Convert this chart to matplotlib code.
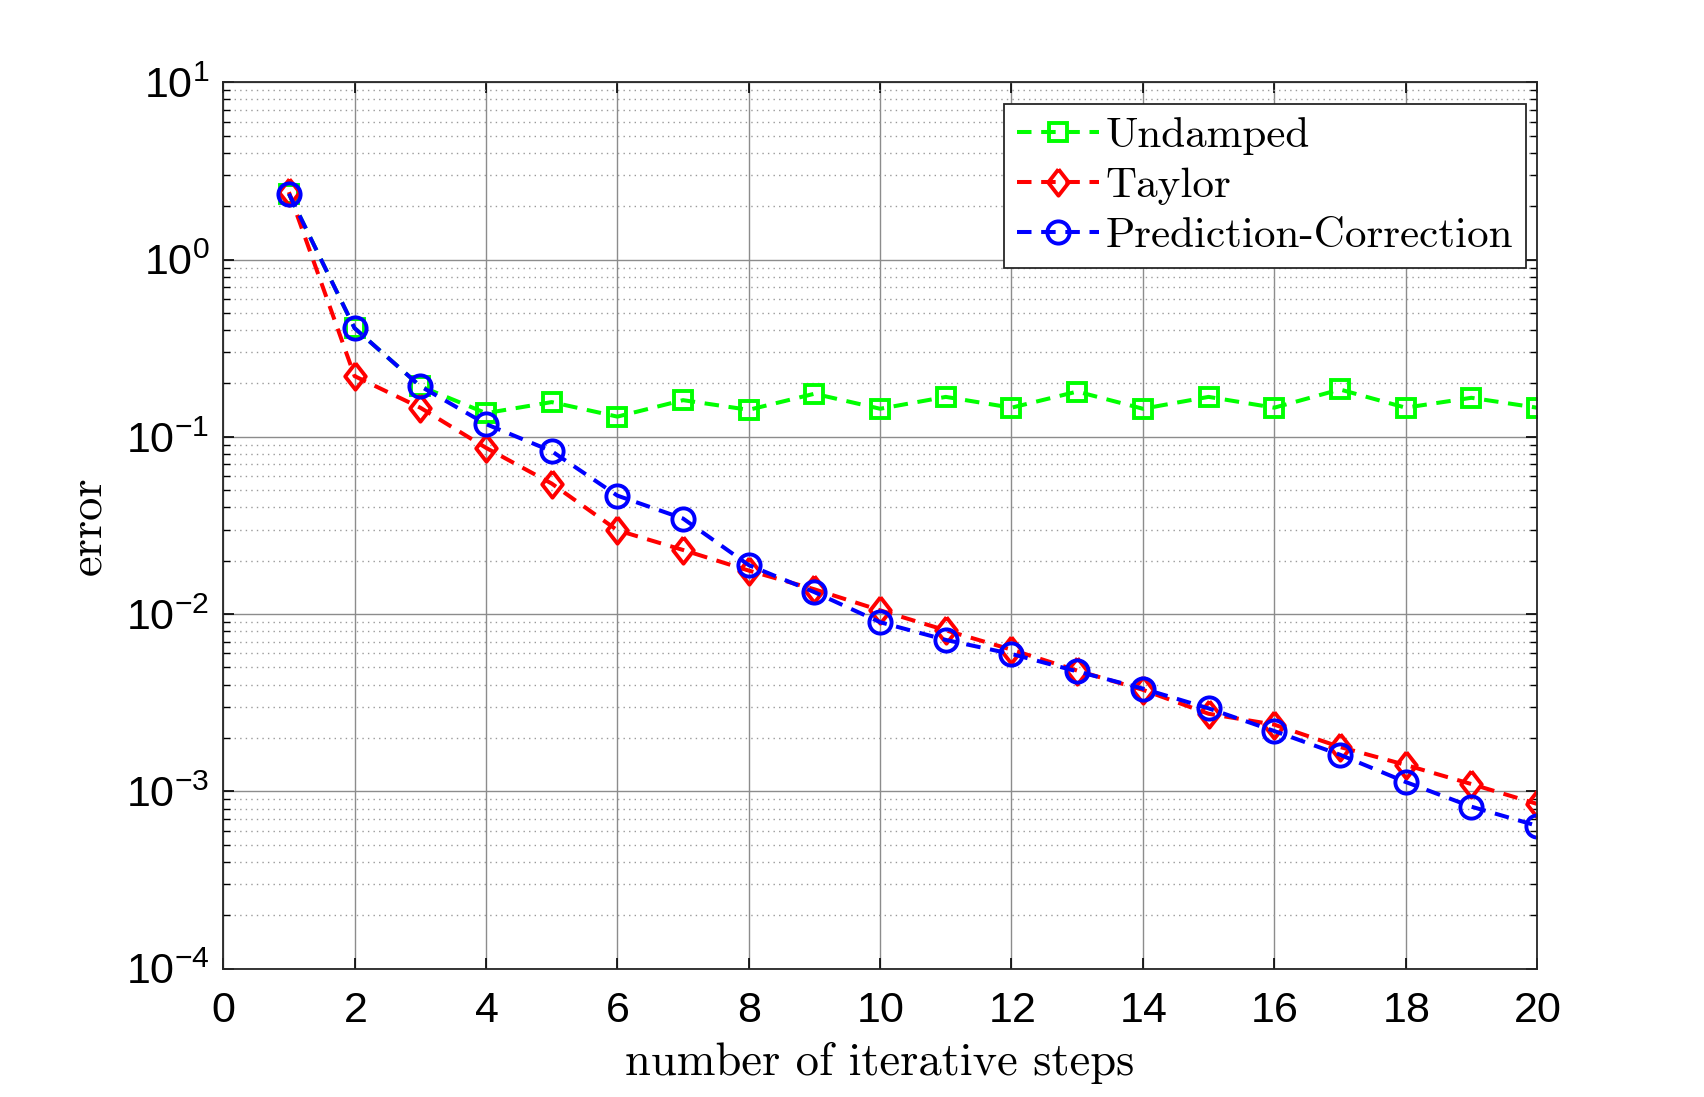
import matplotlib
matplotlib.use("Agg")
import matplotlib.pyplot as plt
import numpy as np
from matplotlib.ticker import LogLocator, NullFormatter

# data
steps = list(range(1, 21))
undamped = [2.35, 0.41, 0.193, 0.136, 0.157, 0.130, 0.161, 0.142, 0.175, 0.144,
            0.168, 0.146, 0.180, 0.144, 0.168, 0.146, 0.185, 0.146, 0.166, 0.146]
taylor = [2.40, 0.22, 0.146, 0.0867, 0.0545, 0.0297, 0.023, 0.0176, 0.0138, 0.0105,
          0.0081, 0.0063, 0.0048, 0.00374, 0.00274, 0.00238, 0.00178, 0.00141, 0.0011, 0.00085]
pred_corr = [2.35, 0.41, 0.193, 0.118, 0.083, 0.0466, 0.0346, 0.0189, 0.0133, 0.0090,
             0.00715, 0.00596, 0.00475, 0.00380, 0.00294, 0.00219, 0.00161, 0.00113, 0.00082, 0.00064]

plt.rcParams['font.family'] = ['Liberation Sans', 'DejaVu Sans']
plt.rcParams['axes.formatter.use_mathtext'] = True
plt.rcParams['mathtext.fontset'] = 'custom'
plt.rcParams['mathtext.rm'] = 'Liberation Sans'

fig = plt.figure(figsize=(17.04, 10.97), dpi=100)
ax = fig.add_axes([0.131, 0.117, 0.771, 0.808])

# matlab style tall diamond
tall_diamond = [(0, 1), (0.78, 0), (0, -1), (-0.78, 0), (0, 1)]
dash = (0, (3.6, 2.4))
lw = 2.9
ax.plot(steps, undamped, ls=dash, marker='s', color=(0, 1, 0), lw=lw, ms=13, mfc='none', mew=2.8, label='Undamped')
ax.plot(steps, taylor, ls=dash, marker=tall_diamond, color=(1, 0, 0), lw=lw, ms=19, mfc='none', mew=2.8, label='Taylor')
ax.plot(steps, pred_corr, ls=dash, marker='o', color=(0, 0, 1), lw=lw, ms=16, mfc='none', mew=2.8, label='Prediction-Correction')

ax.set_yscale('log')
ax.set_xlim(0, 20)
ax.set_ylim(1e-4, 1e1)
ax.set_xticks(range(0, 21, 2))
ax.yaxis.set_major_locator(LogLocator(base=10, numticks=10))
ax.yaxis.set_minor_locator(LogLocator(base=10, subs=np.arange(2, 10), numticks=20))
ax.yaxis.set_minor_formatter(NullFormatter())

ax.grid(True, which='major', color='#8c8c8c', lw=1.0, ls='-')
ax.grid(True, which='minor', axis='y', color='#9a9a9a', lw=1.0, ls=(0, (1, 3)))
ax.set_axisbelow(True)

ax.tick_params(which='both', direction='in', top=True, right=True, labelsize=31)
ax.tick_params(axis='x', pad=16)
ax.tick_params(axis='y', pad=10)
ax.tick_params(which='major', length=8, width=1.2)
ax.tick_params(which='minor', length=5, width=1.0)
for sp in ax.spines.values():
    sp.set_linewidth(1.3)
    sp.set_color('#262626')

ax.set_xlabel('number of iterative steps', fontfamily='cmr10', fontsize=33.5, labelpad=8)
ax.set_ylabel('error', fontfamily='cmr10', fontsize=33.5, labelpad=12)

leg = ax.legend(loc='upper right', bbox_to_anchor=(1526 / 1704, 1 - 104 / 1097),
                bbox_transform=fig.transFigure, borderaxespad=0,
                prop={'family': 'cmr10', 'size': 31}, fancybox=False,
                framealpha=1, edgecolor='#262626', handlelength=1.9, handletextpad=0.15,
                borderpad=0.3, labelspacing=0.28)
leg.get_frame().set_linewidth(1.3)

fig.savefig('out.png', dpi=100)
